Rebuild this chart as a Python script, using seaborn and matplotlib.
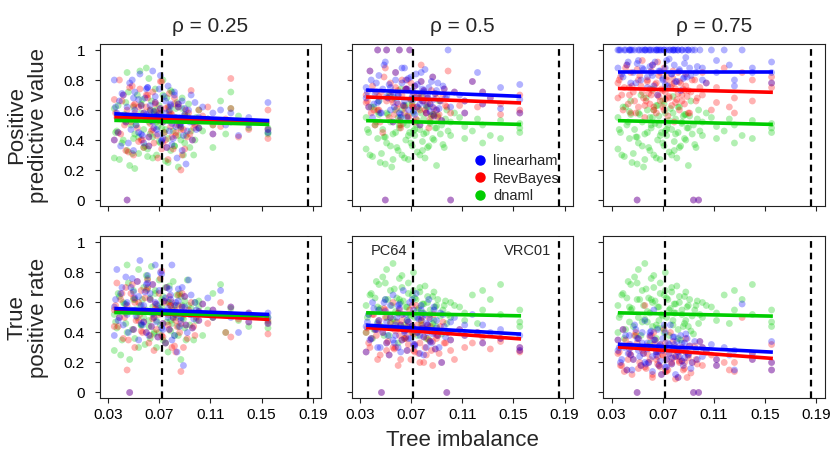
import numpy as np
import pandas as pd
import matplotlib
matplotlib.use("Agg")
import matplotlib.pyplot as plt
import seaborn as sns
from matplotlib.lines import Line2D

# ---------------- data ----------------
methods = ["linearham", "RevBayes", "dnaml"]
method_colors = ["#0000FF", "#FF0000", "#00CD00"]
rho_labels = ["0.25", "0.5", "0.75"]
metric_labels = ["Positive\npredictive value", "True\npositive rate"]
x_ticks = [0.03, 0.07, 0.11, 0.15, 0.19]
x_tick_labels = ["0.03", "0.07", "0.11", "0.15", "0.19"]
y_ticks = [0, 0.2, 0.4, 0.6, 0.8, 1]
y_tick_labels = ["0", "0.2", "0.4", "0.6", "0.8", "1"]
pc64_imbalance = 0.072
vrc01_imbalance = 0.186

tree_imbalance = [
    0.035, 0.035, 0.037, 0.039, 0.040, 0.042, 0.044, 0.045,
    0.045, 0.047, 0.048, 0.050, 0.051, 0.051, 0.053, 0.054,
    0.055, 0.056, 0.058, 0.059, 0.060, 0.061, 0.062, 0.063,
    0.064, 0.065, 0.066, 0.067, 0.068, 0.069, 0.070, 0.071,
    0.072, 0.073, 0.074, 0.075, 0.076, 0.077, 0.078, 0.079,
    0.080, 0.081, 0.082, 0.083, 0.084, 0.085, 0.087, 0.088,
    0.089, 0.090, 0.091, 0.093, 0.094, 0.096, 0.098, 0.099,
    0.101, 0.101, 0.104, 0.108, 0.112, 0.112, 0.118, 0.122,
    0.126, 0.126, 0.132, 0.140, 0.140, 0.155, 0.155, 0.155,
    0.036, 0.038, 0.041, 0.043, 0.046, 0.049, 0.052, 0.054,
    0.057, 0.058, 0.060, 0.062, 0.063, 0.065, 0.067, 0.068,
    0.070, 0.071, 0.073, 0.075, 0.077, 0.078, 0.080, 0.082,
    0.083, 0.085, 0.086, 0.088, 0.090, 0.092, 0.095, 0.097,
    0.044, 0.050, 0.056, 0.061, 0.066, 0.072, 0.079, 0.087,
]

# Positive predictive value, rho = 0.25
ppv_r25_linearham = [
    0.80, 0.40, 0.58, 0.66, 0.36, 0.70, 0.52, 0.62,
    0.00, 0.78, 0.47, 0.33, 0.60, 0.72, 0.55, 0.45,
    0.84, 0.63, 0.38, 0.68, 0.57, 0.75, 0.42, 0.59,
    0.53, 0.86, 0.48, 0.65, 0.56, 0.44, 0.74, 0.61,
    0.39, 0.52, 0.69, 0.58, 0.35, 0.76, 0.46, 0.64,
    0.51, 0.41, 0.70, 0.55, 0.28, 0.62, 0.49, 0.66,
    0.43, 0.57, 0.24, 0.60, 0.52, 0.40, 0.65, 0.47,
    0.55, 0.48, 0.62, 0.54, 0.58, 0.44, 0.60, 0.50,
    0.52, 0.58, 0.43, 0.55, 0.50, 0.65, 0.47, 0.45,
    0.62, 0.45, 0.71, 0.54, 0.38, 0.80, 0.50, 0.67,
    0.43, 0.58, 0.74, 0.36, 0.63, 0.52, 0.69, 0.47,
    0.57, 0.83, 0.41, 0.66, 0.53, 0.60, 0.37, 0.72,
    0.49, 0.64, 0.55, 0.33, 0.61, 0.46, 0.70, 0.52,
    0.56, 0.68, 0.44, 0.75, 0.59, 0.40, 0.63, 0.51,
]
ppv_r25_revbayes = [
    0.67, 0.40, 0.55, 0.80, 0.44, 0.70, 0.33, 0.60,
    0.00, 0.75, 0.52, 0.30, 0.64, 0.58, 0.48, 0.39,
    0.74, 0.63, 0.35, 0.55, 0.62, 0.68, 0.42, 0.51,
    0.46, 0.72, 0.38, 0.65, 0.59, 0.28, 0.58, 0.61,
    0.79, 0.52, 0.45, 0.40, 0.35, 0.62, 0.71, 0.49,
    0.57, 0.34, 0.64, 0.43, 0.50, 0.62, 0.20, 0.53,
    0.47, 0.34, 0.60, 0.58, 0.44, 0.40, 0.50, 0.52,
    0.60, 0.48, 0.56, 0.62, 0.50, 0.44, 0.49, 0.54,
    0.81, 0.61, 0.42, 0.52, 0.47, 0.60, 0.41, 0.47,
    0.58, 0.45, 0.66, 0.50, 0.32, 0.76, 0.55, 0.62,
    0.40, 0.58, 0.70, 0.36, 0.60, 0.47, 0.64, 0.43,
    0.53, 0.79, 0.38, 0.61, 0.27, 0.57, 0.42, 0.68,
    0.45, 0.64, 0.50, 0.30, 0.56, 0.42, 0.73, 0.48,
    0.52, 0.63, 0.40, 0.70, 0.55, 0.34, 0.58, 0.47,
]
ppv_r25_dnaml = [
    0.28, 0.61, 0.46, 0.27, 0.55, 0.40, 0.65, 0.33,
    0.85, 0.23, 0.50, 0.62, 0.21, 0.44, 0.70, 0.31,
    0.86, 0.58, 0.47, 0.36, 0.88, 0.29, 0.52, 0.60,
    0.66, 0.42, 0.57, 0.74, 0.30, 0.49, 0.63, 0.38,
    0.54, 0.80, 0.45, 0.26, 0.68, 0.41, 0.59, 0.33,
    0.72, 0.46, 0.36, 0.55, 0.65, 0.22, 0.48, 0.61,
    0.30, 0.57, 0.43, 0.64, 0.35, 0.52, 0.40, 0.55,
    0.60, 0.48, 0.46, 0.54, 0.35, 0.50, 0.66, 0.44,
    0.72, 0.61, 0.56, 0.48, 0.52, 0.48, 0.45, 0.44,
    0.45, 0.63, 0.38, 0.57, 0.72, 0.31, 0.50, 0.42,
    0.67, 0.35, 0.55, 0.81, 0.44, 0.28, 0.60, 0.52,
    0.39, 0.58, 0.70, 0.47, 0.25, 0.62, 0.53, 0.36,
    0.61, 0.43, 0.50, 0.68, 0.38, 0.56, 0.46, 0.30,
    0.53, 0.41, 0.64, 0.34, 0.59, 0.48, 0.73, 0.40,
]

# Positive predictive value, rho = 0.5
ppv_r50_linearham = [
    0.68, 0.75, 0.62, 0.80, 0.55, 0.71, 1.00, 0.66,
    0.83, 0.58, 0.74, 0.00, 0.69, 1.00, 0.77, 0.60,
    0.72, 0.52, 0.85, 0.65, 0.70, 1.00, 0.57, 0.78,
    0.63, 0.88, 0.74, 0.55, 0.81, 1.00, 0.67, 0.73,
    0.59, 0.76, 0.84, 0.62, 0.70, 0.50, 0.79, 0.66,
    0.73, 0.87, 0.58, 0.68, 0.75, 0.64, 0.82, 0.56,
    0.71, 0.60, 0.78, 0.66, 0.53, 0.74, 0.69, 1.00,
    0.00, 0.62, 0.72, 0.70, 0.66, 0.58, 0.79, 0.85,
    0.64, 0.72, 0.68, 0.61, 0.75, 0.77, 0.67, 0.58,
    0.72, 0.86, 0.64, 0.78, 0.58, 0.90, 0.68, 0.75,
    0.62, 0.80, 0.70, 0.55, 0.88, 0.66, 0.74, 0.60,
    0.82, 0.69, 0.57, 0.77, 0.64, 0.85, 0.72, 0.63,
    0.70, 0.59, 0.79, 0.67, 0.73, 0.61, 0.76, 0.68,
    0.65, 0.92, 0.71, 0.58, 0.80, 0.67, 0.74, 0.62,
]
ppv_r50_revbayes = [
    0.65, 0.70, 0.62, 0.58, 0.76, 0.50, 1.00, 0.69,
    0.60, 0.72, 0.45, 0.00, 0.66, 1.00, 0.55, 0.78,
    0.67, 0.52, 0.85, 0.61, 0.73, 1.00, 0.48, 0.70,
    0.63, 0.58, 0.74, 0.80, 0.56, 1.00, 0.67, 0.62,
    0.71, 0.76, 0.54, 0.62, 0.68, 0.50, 0.90, 0.66,
    0.73, 0.60, 0.58, 0.68, 0.48, 0.64, 0.82, 0.56,
    0.71, 0.60, 0.55, 0.66, 0.53, 0.74, 0.62, 0.86,
    0.00, 0.58, 0.72, 0.63, 0.66, 0.58, 0.79, 0.62,
    0.64, 0.72, 0.68, 0.57, 0.64, 0.70, 0.60, 0.58,
    0.66, 0.86, 0.60, 0.72, 0.52, 0.82, 0.68, 0.70,
    0.57, 0.75, 0.64, 0.50, 0.80, 0.62, 0.74, 0.55,
    0.78, 0.63, 0.52, 0.70, 0.60, 0.79, 0.66, 0.58,
    0.64, 0.54, 0.73, 0.61, 0.68, 0.57, 0.70, 0.63,
    0.60, 0.88, 0.65, 0.53, 0.74, 0.62, 0.69, 0.57,
]
# dnaml does not depend on rho for rho = 0.5 and 0.75 (same points in both panels)
ppv_dnaml = [
    0.34, 0.55, 0.45, 0.62, 0.29, 0.50, 0.41, 0.57,
    0.66, 0.31, 0.47, 0.24, 0.58, 0.38, 0.70, 0.52,
    0.22, 0.44, 0.60, 0.35, 0.55, 0.48, 0.74, 0.30,
    0.51, 0.63, 0.40, 0.56, 0.27, 0.45, 0.66, 0.36,
    0.58, 0.43, 0.50, 0.32, 0.61, 0.47, 0.69, 0.39,
    0.54, 0.28, 0.45, 0.62, 0.36, 0.52, 0.41, 0.57,
    0.48, 0.23, 0.56, 0.44, 0.50, 0.35, 0.60, 0.46,
    0.52, 0.43, 0.58, 0.55, 0.41, 0.49, 0.46, 0.54,
    0.38, 0.50, 0.43, 0.53, 0.41, 0.48, 0.45, 0.51,
    0.47, 0.30, 0.62, 0.52, 0.25, 0.42, 0.57, 0.36,
    0.68, 0.45, 0.33, 0.55, 0.60, 0.28, 0.50, 0.43,
    0.38, 0.64, 0.47, 0.53, 0.30, 0.58, 0.44, 0.62,
    0.35, 0.51, 0.56, 0.40, 0.48, 0.66, 0.37, 0.54,
    0.59, 0.42, 0.27, 0.50, 0.63, 0.46, 0.33, 0.57,
]

# Positive predictive value, rho = 0.75
ppv_r75_linearham = [
    1.00, 0.88, 1.00, 0.82, 1.00, 0.90, 1.00, 0.78,
    1.00, 0.85, 1.00, 0.00, 1.00, 0.93, 0.80, 1.00,
    0.87, 1.00, 0.75, 1.00, 0.89, 1.00, 0.83, 1.00,
    0.92, 1.00, 0.70, 1.00, 0.86, 1.00, 0.81, 1.00,
    0.88, 1.00, 0.76, 0.94, 1.00, 0.84, 1.00, 0.90,
    1.00, 0.79, 1.00, 0.86, 0.73, 1.00, 0.91, 1.00,
    0.82, 1.00, 0.88, 1.00, 0.00, 0.85, 0.00, 1.00,
    0.80, 0.88, 0.78, 1.00, 0.93, 0.85, 1.00, 0.90,
    0.80, 0.76, 1.00, 0.88, 0.85, 0.92, 0.78, 0.85,
    1.00, 0.84, 1.00, 0.92, 1.00, 0.78, 1.00, 0.88,
    1.00, 0.82, 1.00, 0.90, 0.76, 1.00, 0.86, 1.00,
    0.80, 1.00, 0.93, 1.00, 0.84, 1.00, 0.79, 1.00,
    0.87, 1.00, 0.81, 0.95, 1.00, 0.83, 1.00, 0.89,
    1.00, 0.91, 1.00, 0.85, 1.00, 0.77, 1.00, 0.82,
]
ppv_r75_revbayes = [
    0.78, 0.68, 0.82, 0.60, 0.75, 0.90, 0.70, 0.58,
    0.85, 0.72, 0.66, 0.00, 0.80, 0.62, 0.76, 0.93,
    0.68, 0.55, 0.79, 0.71, 0.64, 0.86, 0.73, 0.60,
    0.77, 0.58, 0.70, 0.83, 0.66, 0.74, 0.62, 0.88,
    0.72, 0.80, 0.56, 0.69, 0.75, 0.63, 0.81, 0.52,
    0.74, 0.67, 0.85, 0.60, 0.78, 0.70, 0.64, 0.76,
    0.69, 0.73, 0.58, 0.80, 0.00, 0.66, 0.00, 0.75,
    0.70, 0.85, 0.78, 0.60, 0.65, 0.75, 0.88, 0.62,
    0.58, 0.68, 0.85, 0.66, 0.80, 0.78, 0.82, 0.75,
    0.80, 0.70, 0.88, 0.64, 0.76, 0.58, 0.83, 0.72,
    0.66, 0.80, 0.74, 0.90, 0.62, 0.78, 0.69, 0.85,
    0.73, 0.60, 0.82, 0.68, 0.77, 0.86, 0.65, 0.71,
    0.79, 0.66, 0.74, 0.84, 0.58, 0.72, 0.80, 0.68,
    0.75, 0.87, 0.63, 0.70, 0.92, 0.67, 0.78, 0.73,
]

# True positive rate, rho = 0.25
tpr_r25_linearham = [
    0.57, 0.38, 0.82, 0.50, 0.66, 0.45, 0.77, 0.60,
    0.52, 0.00, 0.70, 0.42, 0.63, 0.55, 0.74, 0.35,
    0.88, 0.58, 0.47, 0.67, 0.40, 0.78, 0.54, 0.62,
    0.44, 0.72, 0.50, 0.85, 0.59, 0.37, 0.68, 0.53,
    0.79, 0.46, 0.61, 0.33, 0.70, 0.56, 0.42, 0.65,
    0.85, 0.50, 0.38, 0.60, 0.27, 0.69, 0.48, 0.57,
    0.18, 0.64, 0.45, 0.75, 0.52, 0.43, 0.60, 0.55,
    0.48, 0.54, 0.59, 0.63, 0.50, 0.55, 0.68, 0.52,
    0.50, 0.57, 0.40, 0.53, 0.47, 0.53, 0.46, 0.50,
    0.62, 0.48, 0.70, 0.55, 0.40, 0.76, 0.51, 0.64,
    0.45, 0.58, 0.72, 0.38, 0.66, 0.53, 0.60, 0.47,
    0.56, 0.80, 0.42, 0.63, 0.50, 0.69, 0.35, 0.58,
    0.52, 0.61, 0.44, 0.70, 0.57, 0.40, 0.65, 0.49,
    0.59, 0.67, 0.46, 0.73, 0.54, 0.43, 0.62, 0.50,
]
tpr_r25_revbayes = [
    0.55, 0.44, 0.73, 0.50, 0.62, 0.36, 0.70, 0.58,
    0.15, 0.00, 0.66, 0.42, 0.60, 0.30, 0.74, 0.48,
    0.52, 0.68, 0.47, 0.63, 0.40, 0.75, 0.54, 0.38,
    0.44, 0.72, 0.28, 0.59, 0.55, 0.37, 0.66, 0.53,
    0.81, 0.46, 0.61, 0.33, 0.70, 0.52, 0.42, 0.58,
    0.60, 0.50, 0.31, 0.27, 0.44, 0.65, 0.14, 0.57,
    0.30, 0.64, 0.45, 0.55, 0.52, 0.43, 0.38, 0.50,
    0.48, 0.54, 0.59, 0.46, 0.50, 0.55, 0.60, 0.40,
    0.37, 0.57, 0.49, 0.53, 0.47, 0.39, 0.46, 0.48,
    0.58, 0.44, 0.66, 0.50, 0.35, 0.72, 0.48, 0.60,
    0.40, 0.55, 0.68, 0.33, 0.62, 0.49, 0.56, 0.42,
    0.52, 0.76, 0.37, 0.60, 0.45, 0.64, 0.30, 0.55,
    0.48, 0.58, 0.40, 0.66, 0.52, 0.36, 0.60, 0.44,
    0.55, 0.63, 0.41, 0.70, 0.50, 0.38, 0.58, 0.46,
]
tpr_r25_dnaml = [
    0.28, 0.52, 0.43, 0.64, 0.25, 0.60, 0.46, 0.85,
    0.40, 0.22, 0.55, 0.68, 0.36, 0.62, 0.50, 0.82,
    0.58, 0.45, 0.70, 0.32, 0.55, 0.76, 0.48, 0.63,
    0.84, 0.52, 0.40, 0.66, 0.30, 0.58, 0.75, 0.45,
    0.62, 0.35, 0.54, 0.70, 0.47, 0.27, 0.60, 0.41,
    0.56, 0.74, 0.38, 0.50, 0.65, 0.44, 0.22, 0.58,
    0.49, 0.61, 0.35, 0.58, 0.45, 0.52, 0.60, 0.48,
    0.57, 0.61, 0.38, 0.55, 0.66, 0.50, 0.72, 0.40,
    0.52, 0.56, 0.48, 0.44, 0.52, 0.47, 0.43, 0.50,
    0.47, 0.66, 0.35, 0.59, 0.73, 0.42, 0.55, 0.30,
    0.62, 0.50, 0.78, 0.44, 0.36, 0.57, 0.68, 0.48,
    0.40, 0.55, 0.64, 0.33, 0.60, 0.71, 0.46, 0.52,
    0.58, 0.38, 0.66, 0.50, 0.43, 0.75, 0.56, 0.35,
    0.53, 0.62, 0.45, 0.69, 0.39, 0.57, 0.48, 0.64,
]

# True positive rate, rho = 0.5
tpr_r50_linearham = [
    0.44, 0.27, 0.52, 0.36, 0.60, 0.42, 0.30, 0.48,
    0.55, 0.00, 0.40, 0.62, 0.33, 0.47, 0.25, 0.58,
    0.43, 0.65, 0.38, 0.50, 0.30, 0.56, 0.45, 0.35,
    0.68, 0.41, 0.52, 0.28, 0.47, 0.60, 0.36, 0.44,
    0.55, 0.32, 0.66, 0.40, 0.49, 0.26, 0.58, 0.43,
    0.37, 0.52, 0.30, 0.45, 0.62, 0.34, 0.41, 0.55,
    0.29, 0.48, 0.38, 0.53, 0.20, 0.44, 0.00, 0.40,
    0.47, 0.35, 0.50, 0.42, 0.38, 0.45, 0.52, 0.40,
    0.33, 0.45, 0.40, 0.36, 0.42, 0.30, 0.28, 0.38,
    0.47, 0.35, 0.56, 0.42, 0.30, 0.60, 0.38, 0.50,
    0.33, 0.45, 0.58, 0.27, 0.52, 0.40, 0.48, 0.36,
    0.44, 0.62, 0.31, 0.50, 0.38, 0.55, 0.25, 0.46,
    0.40, 0.49, 0.33, 0.57, 0.43, 0.30, 0.52, 0.37,
    0.46, 0.54, 0.35, 0.59, 0.42, 0.32, 0.50, 0.39,
]
tpr_r50_revbayes = [
    0.40, 0.27, 0.33, 0.36, 0.52, 0.42, 0.22, 0.48,
    0.45, 0.00, 0.40, 0.55, 0.33, 0.28, 0.25, 0.50,
    0.43, 0.60, 0.30, 0.47, 0.18, 0.38, 0.45, 0.35,
    0.52, 0.41, 0.36, 0.28, 0.47, 0.55, 0.22, 0.44,
    0.39, 0.32, 0.58, 0.40, 0.26, 0.20, 0.48, 0.43,
    0.37, 0.30, 0.25, 0.45, 0.50, 0.34, 0.18, 0.40,
    0.29, 0.36, 0.38, 0.44, 0.20, 0.33, 0.00, 0.40,
    0.28, 0.35, 0.22, 0.42, 0.30, 0.38, 0.33, 0.40,
    0.33, 0.37, 0.29, 0.36, 0.34, 0.27, 0.30, 0.28,
    0.43, 0.30, 0.52, 0.38, 0.25, 0.56, 0.34, 0.46,
    0.29, 0.41, 0.53, 0.22, 0.48, 0.36, 0.44, 0.32,
    0.40, 0.58, 0.27, 0.45, 0.33, 0.50, 0.20, 0.42,
    0.36, 0.44, 0.28, 0.52, 0.38, 0.26, 0.47, 0.33,
    0.42, 0.50, 0.30, 0.55, 0.37, 0.28, 0.45, 0.34,
]
# dnaml does not depend on rho for rho = 0.5 and 0.75 (same points in both panels)
tpr_dnaml = [
    0.58, 0.40, 0.52, 0.66, 0.36, 0.63, 0.47, 0.72,
    0.55, 0.44, 0.77, 0.62, 0.50, 0.82, 0.38, 0.68,
    0.58, 0.86, 0.47, 0.63, 0.53, 0.76, 0.44, 0.70,
    0.61, 0.36, 0.57, 0.48, 0.73, 0.52, 0.43, 0.65,
    0.80, 0.50, 0.62, 0.38, 0.56, 0.67, 0.45, 0.59,
    0.53, 0.71, 0.42, 0.60, 0.35, 0.55, 0.64, 0.48,
    0.57, 0.44, 0.62, 0.51, 0.39, 0.58, 0.46, 0.52,
    0.60, 0.50, 0.58, 0.57, 0.53, 0.48, 0.65, 0.46,
    0.55, 0.68, 0.62, 0.52, 0.72, 0.55, 0.47, 0.44,
    0.50, 0.65, 0.42, 0.74, 0.56, 0.38, 0.62, 0.47,
    0.69, 0.54, 0.33, 0.60, 0.78, 0.45, 0.57, 0.66,
    0.51, 0.40, 0.63, 0.55, 0.70, 0.48, 0.59, 0.36,
    0.64, 0.52, 0.44, 0.67, 0.58, 0.41, 0.55, 0.61,
    0.57, 0.73, 0.49, 0.62, 0.43, 0.68, 0.53, 0.46,
]

# True positive rate, rho = 0.75
tpr_r75_linearham = [
    0.28, 0.35, 0.20, 0.42, 0.30, 0.15, 0.38, 0.25,
    0.32, 0.22, 0.45, 0.00, 0.36, 0.28, 0.18, 0.40,
    0.26, 0.48, 0.33, 0.20, 0.38, 0.30, 0.24, 0.55,
    0.35, 0.27, 0.42, 0.18, 0.32, 0.12, 0.36, 0.29,
    0.40, 0.22, 0.33, 0.26, 0.45, 0.19, 0.30, 0.37,
    0.24, 0.34, 0.10, 0.28, 0.38, 0.21, 0.33, 0.27,
    0.36, 0.25, 0.31, 0.20, 0.00, 0.29, 0.00, 0.34,
    0.30, 0.24, 0.27, 0.32, 0.18, 0.22, 0.30, 0.25,
    0.15, 0.28, 0.59, 0.22, 0.26, 0.34, 0.20, 0.15,
    0.30, 0.22, 0.38, 0.26, 0.15, 0.42, 0.24, 0.33,
    0.19, 0.29, 0.40, 0.14, 0.35, 0.25, 0.31, 0.21,
    0.28, 0.45, 0.17, 0.32, 0.23, 0.37, 0.12, 0.27,
    0.24, 0.33, 0.18, 0.39, 0.26, 0.16, 0.34, 0.22,
    0.29, 0.36, 0.20, 0.41, 0.27, 0.17, 0.32, 0.23,
]
tpr_r75_revbayes = [
    0.26, 0.35, 0.18, 0.42, 0.14, 0.15, 0.32, 0.25,
    0.30, 0.22, 0.38, 0.00, 0.36, 0.16, 0.18, 0.28,
    0.26, 0.58, 0.31, 0.20, 0.22, 0.30, 0.12, 0.40,
    0.35, 0.27, 0.19, 0.18, 0.32, 0.12, 0.25, 0.29,
    0.33, 0.22, 0.15, 0.26, 0.40, 0.19, 0.23, 0.28,
    0.24, 0.30, 0.10, 0.20, 0.28, 0.21, 0.16, 0.27,
    0.10, 0.25, 0.31, 0.20, 0.00, 0.22, 0.00, 0.34,
    0.30, 0.18, 0.27, 0.25, 0.18, 0.22, 0.20, 0.15,
    0.14, 0.20, 0.50, 0.22, 0.26, 0.32, 0.20, 0.15,
    0.27, 0.18, 0.35, 0.22, 0.12, 0.40, 0.20, 0.30,
    0.16, 0.26, 0.37, 0.10, 0.32, 0.22, 0.28, 0.17,
    0.25, 0.42, 0.14, 0.29, 0.20, 0.34, 0.09, 0.24,
    0.21, 0.30, 0.15, 0.36, 0.23, 0.13, 0.31, 0.19,
    0.26, 0.33, 0.17, 0.38, 0.24, 0.14, 0.29, 0.20,
]

# fitted regression lines (linearham, RevBayes, dnaml)
fit_x = [0.035, 0.156]
fit_ppv_r25_start = [0.575, 0.553, 0.531]
fit_ppv_r25_end = [0.529, 0.518, 0.504]
fit_ppv_r50_start = [0.733, 0.687, 0.529]
fit_ppv_r50_end = [0.691, 0.647, 0.504]
fit_ppv_r75_start = [0.855, 0.744, 0.529]
fit_ppv_r75_end = [0.855, 0.718, 0.504]
fit_tpr_r25_start = [0.560, 0.542, 0.533]
fit_tpr_r25_end = [0.520, 0.487, 0.511]
fit_tpr_r50_start = [0.449, 0.433, 0.531]
fit_tpr_r50_end = [0.389, 0.357, 0.511]
fit_tpr_r75_start = [0.322, 0.304, 0.531]
fit_tpr_r75_end = [0.269, 0.227, 0.509]

panels = [
    [(ppv_r25_linearham, ppv_r25_revbayes, ppv_r25_dnaml, fit_ppv_r25_start, fit_ppv_r25_end),
     (ppv_r50_linearham, ppv_r50_revbayes, ppv_dnaml, fit_ppv_r50_start, fit_ppv_r50_end),
     (ppv_r75_linearham, ppv_r75_revbayes, ppv_dnaml, fit_ppv_r75_start, fit_ppv_r75_end)],
    [(tpr_r25_linearham, tpr_r25_revbayes, tpr_r25_dnaml, fit_tpr_r25_start, fit_tpr_r25_end),
     (tpr_r50_linearham, tpr_r50_revbayes, tpr_dnaml, fit_tpr_r50_start, fit_tpr_r50_end),
     (tpr_r75_linearham, tpr_r75_revbayes, tpr_dnaml, fit_tpr_r75_start, fit_tpr_r75_end)],
]

# ---------------- style ----------------
sns.set_style("ticks")
plt.rcParams["font.family"] = ["Liberation Sans", "DejaVu Sans"]
axis_col = "#222222"

fig, axes = plt.subplots(2, 3, figsize=(8.3, 4.61), dpi=100)
fig.subplots_adjust(left=99.7 / 830, right=824.6 / 830, top=1 - 44 / 461,
                    bottom=1 - 398.5 / 461, wspace=0.138, hspace=0.188)

draw_order = [2, 1, 0]  # dnaml, RevBayes, linearham
line_order = [1, 2, 0]

for r in range(2):
    for c in range(3):
        ax = axes[r, c]
        lh, rb, dn, fs, fe = panels[r][c]
        series = [lh, rb, dn]
        frames = []
        for m in draw_order:
            frames.append(pd.DataFrame({"x": tree_imbalance, "y": series[m],
                                        "method": methods[m]}))
        df = pd.concat(frames, ignore_index=True)
        sns.scatterplot(data=df, x="x", y="y", hue="method",
                        palette=dict(zip(methods, method_colors)),
                        alpha=0.3, s=24, linewidth=0, legend=False, ax=ax,
                        zorder=2)
        for m in line_order:
            ax.plot(fit_x, [fs[m], fe[m]], color=method_colors[m], lw=2.6,
                    solid_capstyle="butt", zorder=3)
        for xv in (pc64_imbalance, vrc01_imbalance):
            ax.axvline(xv, color="black", lw=1.6, linestyle=(0, (3.0, 2.2)),
                       zorder=4)
        ax.set_xlim(0.0236, 0.1964)
        ax.set_ylim(-0.04, 1.04)
        ax.set_xticks(x_ticks)
        ax.set_yticks(y_ticks)
        if r == 1:
            ax.set_xticklabels(x_tick_labels)
        else:
            ax.set_xticklabels([])
        if c == 0:
            ax.set_yticklabels(y_tick_labels)
        else:
            ax.set_yticklabels([])
        ax.set_xlabel("")
        ax.set_ylabel("")
        ax.tick_params(axis="both", direction="out", length=3.6, width=0.8,
                       color=axis_col, labelsize=11, labelcolor="black")
        ax.tick_params(axis="y", pad=7)
        ax.tick_params(axis="x", pad=3)
        for sp in ax.spines.values():
            sp.set_visible(True)
            sp.set_color(axis_col)
            sp.set_linewidth(0.8)
        if r == 0:
            ax.set_title("\u03c1 = " + rho_labels[c], fontsize=15, pad=9)

# legend
handles = [Line2D([0], [0], marker="o", linestyle="", markersize=6.5,
                  markerfacecolor=col, markeredgecolor=col)
           for col in method_colors]
axes[0, 1].legend(handles, methods, loc="lower right", frameon=False,
                  fontsize=10.5, labelspacing=0.22, handlelength=0.8,
                  handletextpad=0.5, borderaxespad=0.1,
                  bbox_to_anchor=(0.975, -0.025))

# annotations
axes[1, 1].text(pc64_imbalance - 0.005, 0.944, "PC64", ha="right",
                va="center", fontsize=10.5)
axes[1, 1].text(vrc01_imbalance - 0.0066, 0.944, "VRC01", ha="right",
                va="center", fontsize=10.5)

# row labels and x label
fig.text(27.5 / 830, 1 - 125 / 461, metric_labels[0], rotation=90,
         ha="center", va="center", fontsize=16, linespacing=1.05)
fig.text(27.5 / 830, 1 - 317.5 / 461, metric_labels[1], rotation=90,
         ha="center", va="center", fontsize=16, linespacing=1.05)
fig.text(462 / 830, 1 - 440 / 461, "Tree imbalance", ha="center",
         va="center", fontsize=16)

fig.savefig("out.png", dpi=100)
